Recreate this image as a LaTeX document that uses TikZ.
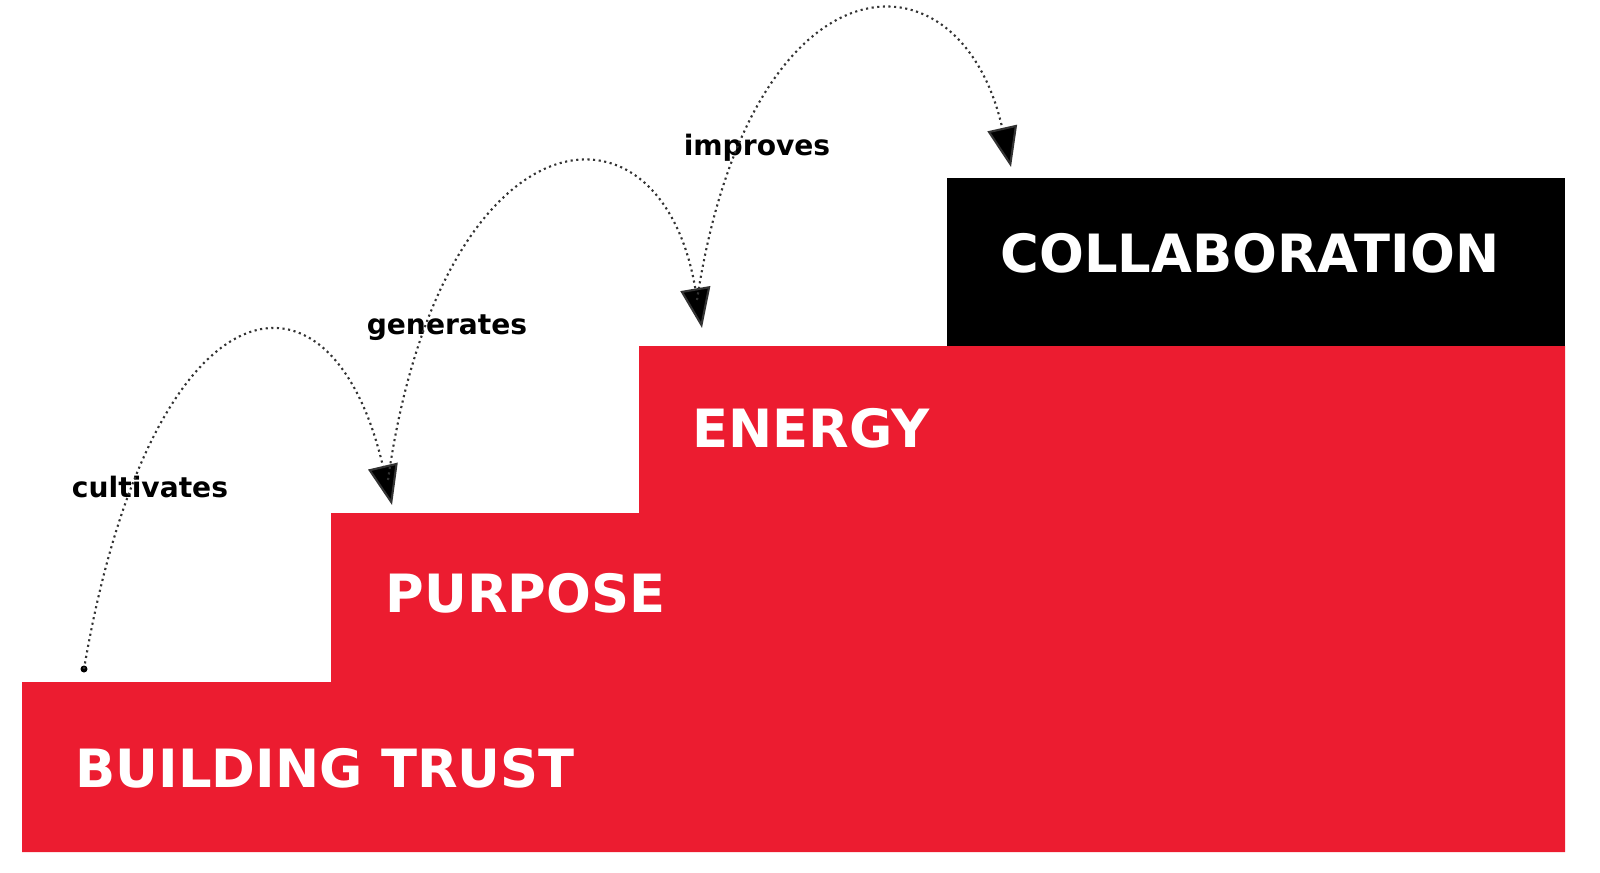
\documentclass[tikz,border=0pt]{standalone}
\usepackage{fontspec}
\setsansfont{DejaVu Sans}
\usepackage{tikz}
\usetikzlibrary{positioning,arrows.meta}
\definecolor{stepred}{RGB}{236,28,48}

\begin{document}
\begin{tikzpicture}[x=0.01cm, y=-0.01cm,
  stepname/.style = {text = white, font = \sffamily\bfseries\fontsize{15}{18}\selectfont, anchor = west, inner sep = 0pt},
  verb/.style = {font = \sffamily\bfseries\fontsize{8}{10}\selectfont, inner sep = 0pt},
  hop/.style = {densely dotted, gray!40!black, semithick, -{Triangle[length = 4mm, width = 3mm, fill = black]}}]
\useasboundingbox (0,0) rectangle (1600,872);
\fill[stepred] (22,852) -- (22,682) -- (331,682) -- (331,513) -- (639,513) -- (639,346) -- (1565,346) -- (1565,852) -- cycle;
\fill[black] (947,178) rectangle (1565,346);
\node[stepname] (trust) at (75,768) {BUILDING TRUST};
\node[stepname] (purpose) at (385,593) {PURPOSE};
\node[stepname] (energy) at (692,428) {ENERGY};
\node[stepname] (collab) at (1000,253) {COLLABORATION};
\node[verb] (cult) at (150,487) {cultivates};
\node[verb] (gen) at (447,328) {generates};
\node[verb] (impr) at (757,148) {improves};
\coordinate (s1) at (84,669);
\coordinate (e1) at (392,505);
\coordinate (s2) at (388,480);
\coordinate (e2) at (702,328);
\coordinate (s3) at (697,300);
\coordinate (e3) at (1011,167);
\fill (s1) circle (3.5);
\draw[hop] (s1) .. controls (150,280) and (330,240) .. (e1);
\draw[hop] (s2) .. controls (440,110) and (660,80) .. (e2);
\draw[hop] (s3) .. controls (750,-50) and (960,-60) .. (e3);
\end{tikzpicture}
\end{document}
